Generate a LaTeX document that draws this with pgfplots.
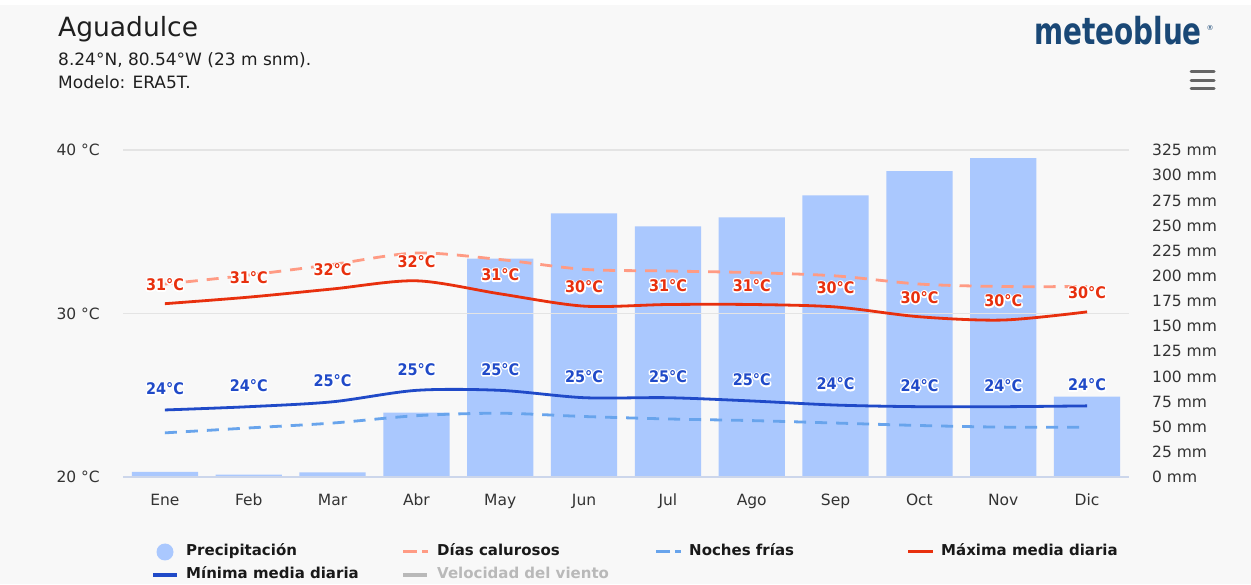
\documentclass[border=0pt]{standalone}
\usepackage{pgfplots}
\pgfplotsset{compat=1.18}
\usepackage{fontspec}
\setmainfont{DejaVu Sans}
\newfontfamily\dvcond{DejaVu Sans Condensed}
\newcommand{\halo}[1]{\special{pdf:literal 1 Tr 1 1 1 RG 3 w 1 j}#1\special{pdf:literal 0 Tr}}
\definecolor{bg}{RGB}{248,248,248}
\definecolor{barcol}{RGB}{170,200,254}
\definecolor{maxred}{RGB}{232,48,14}
\definecolor{hotdash}{RGB}{255,155,132}
\definecolor{minblue}{RGB}{32,74,200}
\definecolor{colddash}{RGB}{104,164,236}
\definecolor{txt}{RGB}{51,51,51}
\definecolor{gridc}{RGB}{228,228,228}
\definecolor{axc}{RGB}{204,214,235}
\definecolor{logoc}{RGB}{26,72,118}
\definecolor{windc}{RGB}{185,185,185}
\begin{document}
\begin{tikzpicture}[x=1pt,y=1pt]
\fill[white] (0,0) rectangle (1251,584);
\fill[bg] (0,0) rectangle (1251,579);
\useasboundingbox (0,0) rectangle (1251,584);
% titles
\node[anchor=base west,inner sep=0pt,text=black!88] at (58,547) {\fontsize{26.5}{30}\selectfont Aguadulce};
\node[anchor=base west,inner sep=0pt,text=black!88] at (58,518) {\fontsize{17}{20}\selectfont 8.24°N, 80.54°W (23 m snm).};
\node[anchor=base west,inner sep=0pt,text=black!88] at (58,495) {\fontsize{17}{20}\selectfont Modelo: ERA5T.};
% logo
\node[anchor=base west,inner sep=0pt,text=logoc,yscale=1.2] at (1034,539) {\fontsize{31}{34}\selectfont\dvcond\bfseries meteoblue};
\node[anchor=center,inner sep=0pt,text=logoc] at (1210,556) {\fontsize{7}{8}\selectfont ®};
% menu icon
\foreach \yy in {512,503,495} {\draw[line width=3pt,black!60,line cap=round] (1191,\yy) -- (1214,\yy);}

% precipitation axis (right)
\begin{axis}[
  at={(123pt,107pt)}, anchor=south west,
  scale only axis, width=1006pt, height=327pt,
  xmin=-0.5, xmax=11.5, ymin=0, ymax=325,
  axis line style={draw=none},
  major tick length=0pt, tick style={draw=none},
  xtick=\empty,
  ytick={0,25,...,325},
  yticklabels={0 mm,25 mm,50 mm,75 mm,100 mm,125 mm,150 mm,175 mm,200 mm,225 mm,250 mm,275 mm,300 mm,325 mm},
  yticklabel pos=right,
  yticklabel style={anchor=mid west, inner sep=0pt, xshift=23pt, yshift=-3pt, text=txt, font=\fontsize{15.5}{18}\selectfont},
]
\addplot[ybar, bar width=0.79, fill=barcol, draw=none] coordinates {
(0,5) (1,2.3) (2,4.7) (3,64) (4,217) (5,262) (6,249) (7,258) (8,280) (9,304) (10,317) (11,80)};
\end{axis}

% temperature axis (left)
\begin{axis}[
  at={(123pt,107pt)}, anchor=south west,
  scale only axis, width=1006pt, height=327pt,
  xmin=-0.5, xmax=11.5, ymin=20, ymax=40,
  axis line style={draw=none},
  major tick length=0pt, tick style={draw=none},
  xtick={0,...,11},
  xticklabels={Ene,Feb,Mar,Abr,May,Jun,Jul,Ago,Sep,Oct,Nov,Dic},
  xticklabel style={anchor=base, inner sep=0pt, yshift=-28pt, text=txt, font=\fontsize{15.5}{18}\selectfont},
  ytick={30,40},
  extra y ticks={20}, extra y tick style={grid=none},
  yticklabels={30 °C,40 °C},
  extra y tick labels={20 °C},
  yticklabel style={anchor=mid east, inner sep=0pt, xshift=-23pt, yshift=-3pt, text=txt, font=\fontsize{15.5}{18}\selectfont},
  ymajorgrids, grid style={gridc, line width=1.2pt},
  clip=false,
]
\draw[axc, line width=1.5pt] (rel axis cs:0,0) -- (rel axis cs:1,0);
\addplot[colddash, line width=2.8pt, dash pattern=on 12pt off 9pt, smooth, mark=none] coordinates {
(0,22.7) (1,23.0) (2,23.3) (3,23.75) (4,23.9) (5,23.7) (6,23.55) (7,23.45) (8,23.3) (9,23.15) (10,23.05) (11,23.05)};
\addplot[hotdash, line width=2.8pt, dash pattern=on 12pt off 9pt, smooth, mark=none] coordinates {
(0,31.8) (1,32.35) (2,33.0) (3,33.7) (4,33.3) (5,32.7) (6,32.6) (7,32.5) (8,32.3) (9,31.8) (10,31.65) (11,31.65)};
\addplot[minblue, line width=2.8pt, smooth, mark=none] coordinates {
(0,24.1) (1,24.3) (2,24.6) (3,25.3) (4,25.3) (5,24.85) (6,24.85) (7,24.65) (8,24.4) (9,24.3) (10,24.3) (11,24.35)};
\addplot[maxred, line width=2.8pt, smooth, mark=none] coordinates {
(0,30.6) (1,31.0) (2,31.5) (3,32.0) (4,31.2) (5,30.45) (6,30.55) (7,30.55) (8,30.4) (9,29.8) (10,29.6) (11,30.1)};
% labels (halo then text)
\addplot[draw=none, mark=none, point meta=explicit symbolic, nodes near coords={\halo{\pgfplotspointmeta°C}},
  every node near coord/.append style={anchor=mid, inner sep=0pt, yshift=16pt, text=white, font=\fontsize{16}{18}\selectfont\dvcond\bfseries}] coordinates {
(0,30.6)[31] (1,31.0)[31] (2,31.5)[32] (3,32.0)[32] (4,31.2)[31] (5,30.45)[30] (6,30.55)[31] (7,30.55)[31] (8,30.4)[30] (9,29.8)[30] (10,29.6)[30] (11,30.1)[30]};
\addplot[draw=none, mark=none, point meta=explicit symbolic, nodes near coords={\halo{\pgfplotspointmeta°C}},
  every node near coord/.append style={anchor=mid, inner sep=0pt, yshift=18pt, text=white, font=\fontsize{16}{18}\selectfont\dvcond\bfseries}] coordinates {
(0,24.1)[24] (1,24.3)[24] (2,24.6)[25] (3,25.3)[25] (4,25.3)[25] (5,24.85)[25] (6,24.85)[25] (7,24.65)[25] (8,24.4)[24] (9,24.3)[24] (10,24.3)[24] (11,24.35)[24]};
\addplot[draw=none, mark=none, point meta=explicit symbolic, nodes near coords={\pgfplotspointmeta°C},
  every node near coord/.append style={anchor=mid, inner sep=0pt, yshift=16pt, text=maxred, font=\fontsize{16}{18}\selectfont\dvcond\bfseries}] coordinates {
(0,30.6)[31] (1,31.0)[31] (2,31.5)[32] (3,32.0)[32] (4,31.2)[31] (5,30.45)[30] (6,30.55)[31] (7,30.55)[31] (8,30.4)[30] (9,29.8)[30] (10,29.6)[30] (11,30.1)[30]};
\addplot[draw=none, mark=none, point meta=explicit symbolic, nodes near coords={\pgfplotspointmeta°C},
  every node near coord/.append style={anchor=mid, inner sep=0pt, yshift=18pt, text=minblue, font=\fontsize{16}{18}\selectfont\dvcond\bfseries}] coordinates {
(0,24.1)[24] (1,24.3)[24] (2,24.6)[25] (3,25.3)[25] (4,25.3)[25] (5,24.85)[25] (6,24.85)[25] (7,24.65)[25] (8,24.4)[24] (9,24.3)[24] (10,24.3)[24] (11,24.35)[24]};
\end{axis}

% legend
\begin{scope}[every node/.style={anchor=mid west, inner sep=0pt, font=\fontsize{15}{18}\selectfont\bfseries}]
\fill[barcol] (165,32) circle (8.5);
\node[text=black!90] at (186,31) {Precipitación};
\draw[hotdash, line width=3pt] (403,32) -- (417,32) (422,32) -- (428,32);
\node[text=black!90] at (437,31) {Días calurosos};
\draw[colddash, line width=3pt] (656,32) -- (670,32) (675,32) -- (681,32);
\node[text=black!90] at (689,31) {Noches frías};
\draw[maxred, line width=3pt] (908,32) -- (933,32);
\node[text=black!90] at (941,31) {Máxima media diaria};
\draw[minblue, line width=3pt] (153,9) -- (177,9);
\node[text=black!90] at (186,8) {Mínima media diaria};
\draw[windc, line width=3pt] (403,9) -- (427,9);
\node[text=windc] at (437,8) {Velocidad del viento};
\end{scope}
\end{tikzpicture}
\end{document}
